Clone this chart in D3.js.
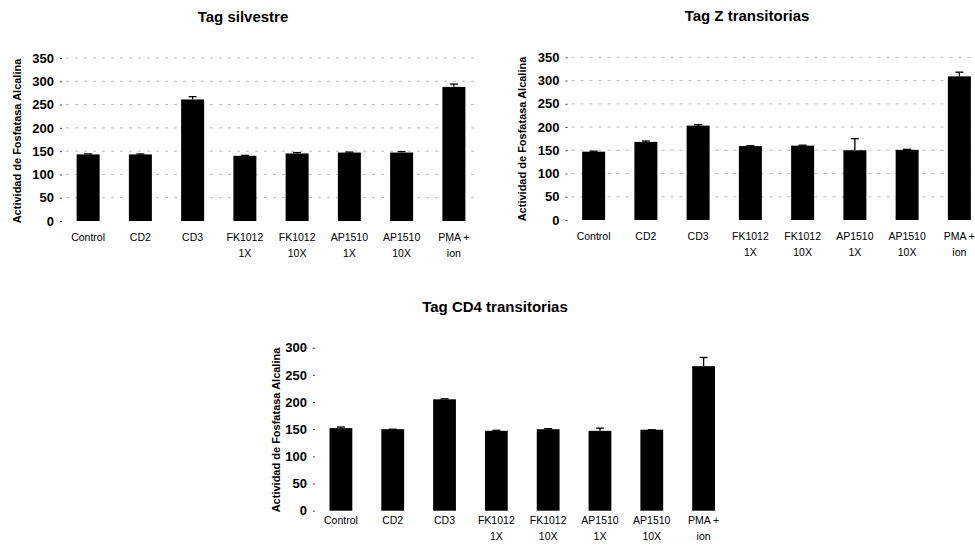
<!DOCTYPE html>
<html>
<head>
<meta charset="utf-8">
<script src="https://cdn.jsdelivr.net/npm/d3@7"></script>
<style>
  body { margin: 0; background: #fff; }
  svg { display: block; font-family: Arial, "Liberation Sans", sans-serif; }
  .tick text { font-weight: bold; }
</style>
</head>
<body>
<svg width="975" height="547"></svg>
<script>
// categories (two lines each under the bars)
var categories = ["Control", "CD2", "CD3", "FK1012 1X", "FK1012 10X", "AP1510 1X", "AP1510 10X", "PMA + ion"];
var catLines = [["Control"], ["CD2"], ["CD3"], ["FK1012", "1X"], ["FK1012", "10X"], ["AP1510", "1X"], ["AP1510", "10X"], ["PMA +", "ion"]];

// Tag silvestre
var silvestreVals = [143, 143, 261, 140, 145, 147, 147, 288];
var silvestreErr  = [1, 1, 6, 1, 2, 1, 2, 6];
// Tag Z transitorias
var zVals = [147, 168, 203, 159, 160, 150, 151, 309];
var zErr  = [1, 2, 2, 1, 1, 25, 1, 9];
// Tag CD4 transitorias
var cd4Vals = [152, 150, 205, 147, 150, 147, 149, 266];
var cd4Err  = [2, 0, 1, 1, 1, 5, 0, 16];

var ticks350 = [0, 50, 100, 150, 200, 250, 300, 350];
var ticks300 = [0, 50, 100, 150, 200, 250, 300];

var yTitle = "Actividad de Fosfatasa Alcalina";

var svg = d3.select("svg");

function drawPanel(p) {
  var g = svg.append("g");

  var x = d3.scaleBand()
    .domain(categories)
    .range([p.x0, p.x1])
    .paddingInner(0.56)
    .paddingOuter(0.28);

  var y = d3.scaleLinear()
    .domain([0, p.max])
    .range([p.y0, p.y1]);

  // dashed grid lines
  if (p.grid) {
    g.selectAll(".grid")
      .data(p.ticks.filter(function(d) { return d > 0; }))
      .enter().append("line")
        .attr("x1", p.x0 + 4)
        .attr("x2", p.x1)
        .attr("y1", function(d) { return y(d); })
        .attr("y2", function(d) { return y(d); })
        .attr("stroke", "#aaa")
        .attr("stroke-width", 0.8)
        .attr("stroke-dasharray", "3,6");
  }

  var axis = g.append("g")
    .attr("transform", "translate(" + p.x0 + ",0)")
    .call(d3.axisLeft(y).tickValues(p.ticks).tickSize(2).tickPadding(6));
  axis.select(".domain").remove();
  axis.selectAll(".tick line").attr("stroke", "#444");
  axis.selectAll(".tick text")
    .attr("font-size", 13)
    .attr("fill", "#000")
    .attr("font-family", "Arial, 'Liberation Sans', sans-serif");

  // bars
  g.selectAll(".bar")
    .data(p.vals)
    .enter().append("rect")
      .attr("x", function(d, i) { return x(categories[i]); })
      .attr("y", function(d) { return y(d); })
      .attr("width", x.bandwidth())
      .attr("height", function(d) { return y(0) - y(d); })
      .attr("fill", "#000");

  // error bars
  var eb = g.selectAll(".err")
    .data(p.vals)
    .enter().append("g");
  eb.append("line")
    .attr("x1", function(d, i) { return x(categories[i]) + x.bandwidth() / 2; })
    .attr("x2", function(d, i) { return x(categories[i]) + x.bandwidth() / 2; })
    .attr("y1", function(d) { return y(d); })
    .attr("y2", function(d, i) { return y(d + p.err[i]); })
    .attr("stroke", "#000")
    .attr("stroke-width", 1.3);
  eb.append("line")
    .attr("x1", function(d, i) { return x(categories[i]) + x.bandwidth() / 2 - 4; })
    .attr("x2", function(d, i) { return x(categories[i]) + x.bandwidth() / 2 + 4; })
    .attr("y1", function(d, i) { return y(d + p.err[i]); })
    .attr("y2", function(d, i) { return y(d + p.err[i]); })
    .attr("stroke", "#000")
    .attr("stroke-width", 1.3);

  // category labels
  var lab = g.selectAll(".cat")
    .data(catLines)
    .enter().append("text")
      .attr("text-anchor", "middle")
      .attr("font-size", 10.5)
      .attr("fill", "#000");
  lab.selectAll("tspan")
    .data(function(d, i) { return d.map(function(s) { return { s: s, i: i }; }); })
    .enter().append("tspan")
      .attr("x", function(d) { return x(categories[d.i]) + x.bandwidth() / 2; })
      .attr("y", function(d, j) { return p.labY + j * 15.5; })
      .text(function(d) { return d.s; });

  // titles
  g.append("text")
    .attr("x", p.titleX)
    .attr("y", p.titleY)
    .attr("text-anchor", "middle")
    .attr("font-size", 15)
    .attr("font-weight", "bold")
    .text(p.title);

  g.append("text")
    .attr("transform", "translate(" + p.yTitleX + "," + p.yTitleY + ") rotate(-90)")
    .attr("text-anchor", "middle")
    .attr("font-size", 11)
    .attr("font-weight", "bold")
    .text(yTitle);
}

drawPanel({
  title: "Tag silvestre", titleX: 243, titleY: 22,
  vals: silvestreVals, err: silvestreErr,
  x0: 62, x1: 480, y0: 221, y1: 58, max: 350, ticks: ticks350, grid: true,
  labY: 241, yTitleX: 21, yTitleY: 141
});

drawPanel({
  title: "Tag Z transitorias", titleX: 747, titleY: 21,
  vals: zVals, err: zErr,
  x0: 567.5, x1: 985.5, y0: 220, y1: 57.3, max: 350, ticks: ticks350, grid: true,
  labY: 240, yTitleX: 526, yTitleY: 139
});

drawPanel({
  title: "Tag CD4 transitorias", titleX: 495, titleY: 312,
  vals: cd4Vals, err: cd4Err,
  x0: 315, x1: 729.5, y0: 510.7, y1: 347.7, max: 300, ticks: ticks300, grid: false,
  labY: 524, yTitleX: 280, yTitleY: 430
});
</script>
</body>
</html>
